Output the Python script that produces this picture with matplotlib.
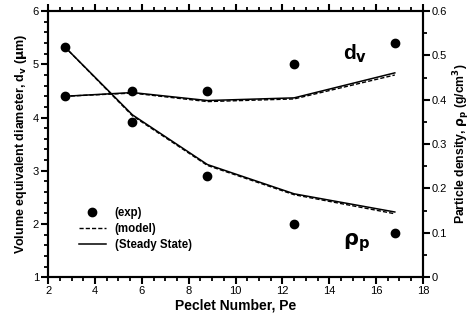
import numpy as np
import matplotlib.pyplot as plt
from matplotlib.ticker import MultipleLocator
from matplotlib.lines import Line2D

plt.rcParams['font.family'] = ['Liberation Sans', 'DejaVu Sans']
plt.rcParams['font.weight'] = 'bold'

# Peclet numbers
pe = [2.7, 5.6, 8.8, 12.5, 16.8]

# volume equivalent diameter (um)
dv_exp = [4.40, 4.50, 4.50, 5.00, 5.40]
dv_model = [4.40, 4.46, 4.30, 4.35, 4.80]
dv_steady = [4.40, 4.47, 4.32, 4.37, 4.84]

# particle density (g/cm3)
rho_exp = [0.52, 0.35, 0.228, 0.12, 0.10]
rho_model = [0.52, 0.364, 0.252, 0.186, 0.143]
rho_steady = [0.52, 0.366, 0.254, 0.188, 0.147]

fig = plt.figure(figsize=(4.72, 3.28), dpi=100)
ax = fig.add_axes([0.102, 0.155, 0.794, 0.811])
ax2 = ax.twinx()

# d_v on left axis
ax.plot(pe, dv_steady, '-', color='black', lw=1.1)
ax.plot(pe, dv_model, '--', color='black', lw=1.0, dashes=(3, 1.5))
ax.plot(pe, dv_exp, 'o', color='black', ms=6, ls='none')

# rho_p on right axis
ax2.plot(pe, rho_steady, '-', color='black', lw=1.1)
ax2.plot(pe, rho_model, '--', color='black', lw=1.0, dashes=(3, 1.5))
ax2.plot(pe, rho_exp, 'o', color='black', ms=6, ls='none')

ax.set_xlim(2, 18)
ax.set_ylim(1, 6)
ax2.set_ylim(0, 0.6)

ax.xaxis.set_major_locator(MultipleLocator(2))
ax.xaxis.set_minor_locator(MultipleLocator(0.5))
ax.yaxis.set_major_locator(MultipleLocator(1))
ax.yaxis.set_minor_locator(MultipleLocator(0.2))
ax2.yaxis.set_minor_locator(MultipleLocator(0.05))
ax2.set_yticks([0, 0.1, 0.2, 0.3, 0.4, 0.5, 0.6])
ax2.set_yticklabels(['0', '0.1', '0.2', '0.3', '0.4', '0.5', '0.6'])

for a in (ax, ax2):
    for s in a.spines.values():
        s.set_linewidth(1.5)
    a.tick_params(which='major', direction='out', length=5, width=1.5, labelsize=8, pad=1.5)
    a.tick_params(which='minor', direction='out', length=3, width=1.3)
ax.tick_params(axis='x', which='both', top=True)
for lab in ax.get_xticklabels() + ax.get_yticklabels() + ax2.get_yticklabels():
    lab.set_fontweight('normal')

ax.set_xlabel('Peclet Number, Pe', fontsize=10, fontweight='bold', labelpad=2)
ax.set_ylabel(r'Volume equivalent diameter, d$_\mathbf{v}$ ($\mathbf{\mu}$m)', fontsize=9, fontweight='bold', labelpad=3)
ax2.set_ylabel(r'Particle density, $\mathbf{\rho}_\mathbf{p}$ (g/cm$^\mathbf{3}$)', fontsize=8.8, fontweight='bold', labelpad=3)

ax.text(14.6, 5.1, r'd$_\mathbf{v}$', fontsize=15, fontweight='bold')
ax2.text(14.6, 0.072, r'$\mathbf{\rho}_\mathbf{p}$', fontsize=15, fontweight='bold')

handles = [Line2D([], [], marker='o', color='black', ms=6, ls='none'),
           Line2D([], [], color='black', ls='--', lw=1.0, dashes=(3, 1.5)),
           Line2D([], [], color='black', ls='-', lw=1.1)]
ax.legend(handles, ['(exp)', '(model)', '(Steady State)'], loc='lower left',
          bbox_to_anchor=(0.055, 0.06), frameon=False, handlelength=2.3,
          handletextpad=0.8, labelspacing=0.35, prop={'weight': 'bold', 'size': 8.3})

fig.savefig('out.png', dpi=100)
